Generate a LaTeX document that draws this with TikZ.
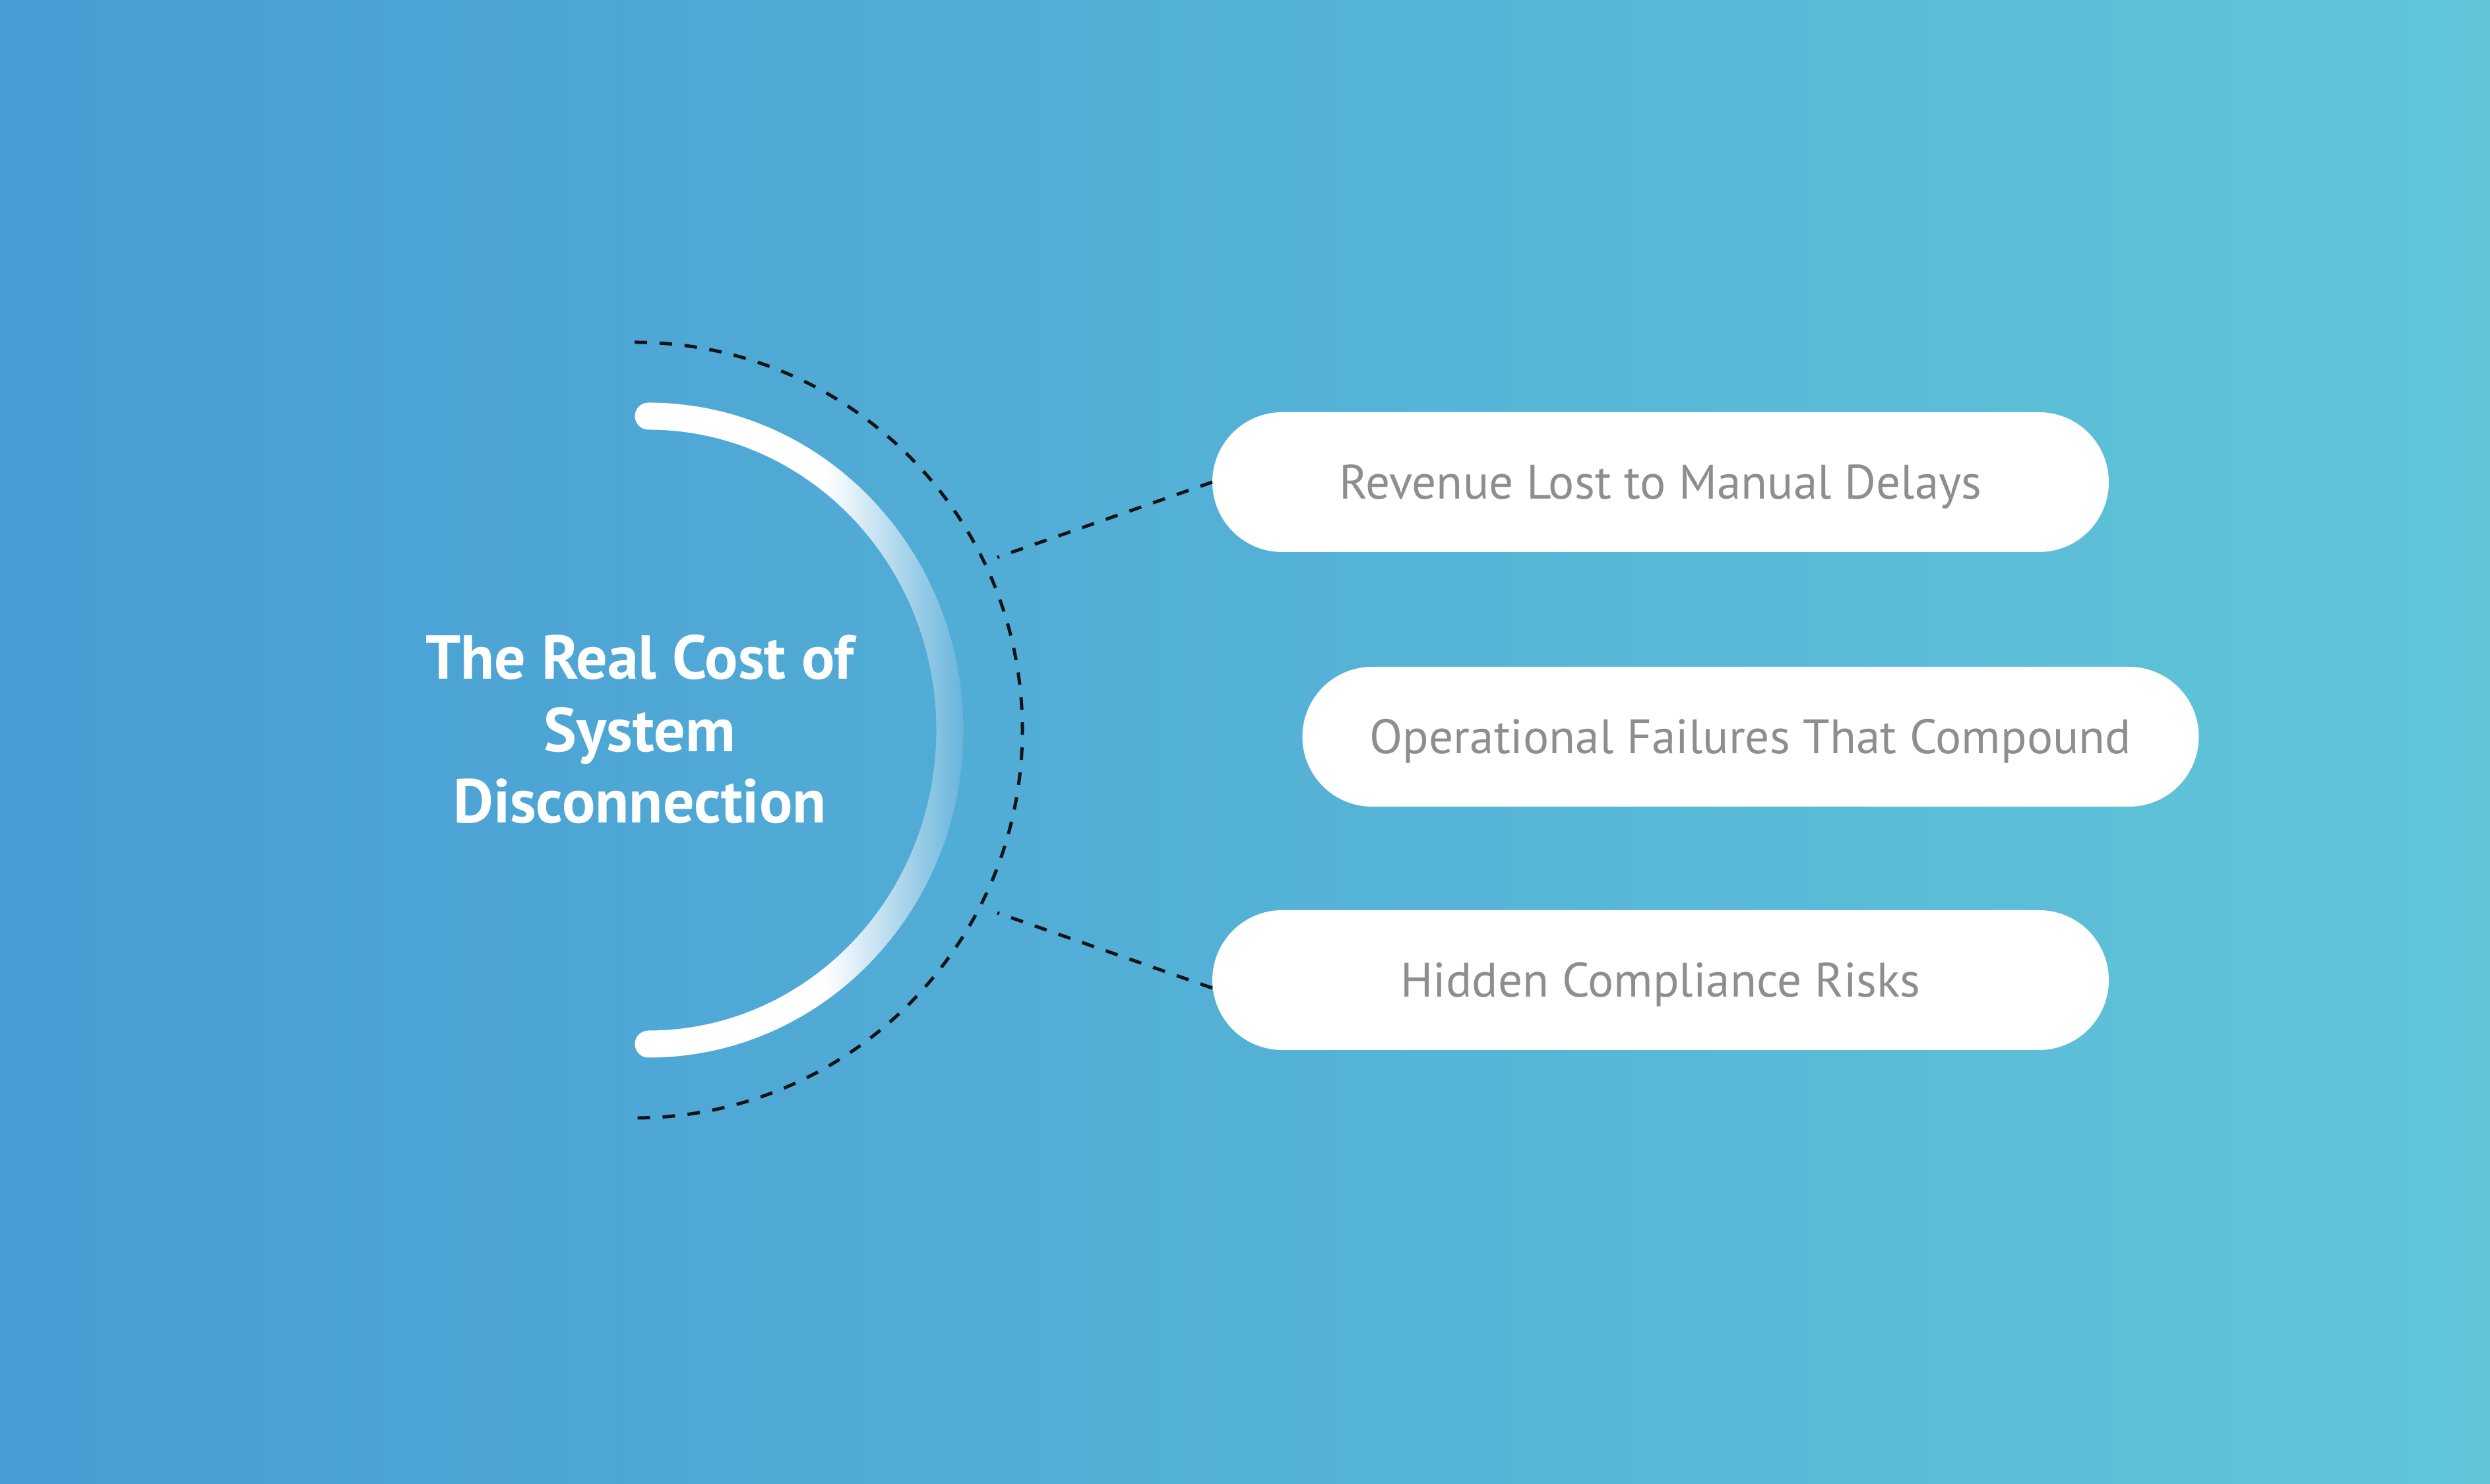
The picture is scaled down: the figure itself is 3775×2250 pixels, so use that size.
\documentclass[tikz,border=0pt]{standalone}
\usepackage{fontspec}
\setmainfont{PT Sans}
\definecolor{bgleft}{RGB}{72,156,212}
\definecolor{bgright}{RGB}{96,198,216}
\definecolor{fadecol}{RGB}{104,180,220}
\definecolor{pilltext}{RGB}{142,142,142}
\definecolor{dashcol}{RGB}{20,20,24}
\pgfdeclarehorizontalshading{arcfade}{100bp}{color(0bp)=(white); color(25bp)=(white); color(54bp)=(white); color(75bp)=(fadecol); color(100bp)=(fadecol)}
\tikzset{
  dashline/.style={draw=dashcol, line width=5pt, dash pattern=on 19pt off 19pt},
  pill/.style={fill=white, rounded corners=105.9pt, minimum width=1359pt, minimum height=212pt,
    inner sep=0pt, text=pilltext, font=\fontsize{73.3}{86}\selectfont, text height=51pt, text depth=0pt},
  titletext/.style={text=white, anchor=base, inner sep=0pt, font=\bfseries\fontsize{94}{112}\selectfont}
}
\begin{document}
\begin{tikzpicture}[x=1pt,y=1pt]
\useasboundingbox (0,0) rectangle (3775,2250);
\shade[left color=bgleft, right color=bgright] (0,0) rectangle (3775,2250);
% solid fading arc
\shade[shading=arcfade] (983,1639.5)
  arc[start angle=90, end angle=-90, x radius=477.5pt, y radius=496.5pt]
  arc[start angle=-90, end angle=-270, radius=20.5pt]
  arc[start angle=-90, end angle=90, x radius=436.5pt, y radius=455.5pt]
  arc[start angle=-90, end angle=-270, radius=20.5pt]
  -- cycle;
% dashed arc
\draw[dashline] (962,1731) arc[start angle=90, end angle=-90, radius=588pt];
% title
\node[titletext] (t1) at (970,1220) {The Real Cost of};
\node[titletext] (t2) at (970,1110) {System};
\node[titletext] (t3) at (970,1002) {Disconnection};
% pills
\node[pill] (p1) at (2517.5,1519) {Revenue Lost to Manual Delays};
\node[pill] (p2) at (2654,1133) {Operational Failures That Compound};
\node[pill] (p3) at (2517.5,764) {Hidden Compliance Risks};
% connectors
\coordinate (u) at (1512,1405);
\coordinate (l) at (1512,866);
\draw[dashline] (p1.west) -- (u);
\draw[dashline] ([yshift=-12pt]p3.west) -- (l);
\end{tikzpicture}
\end{document}
